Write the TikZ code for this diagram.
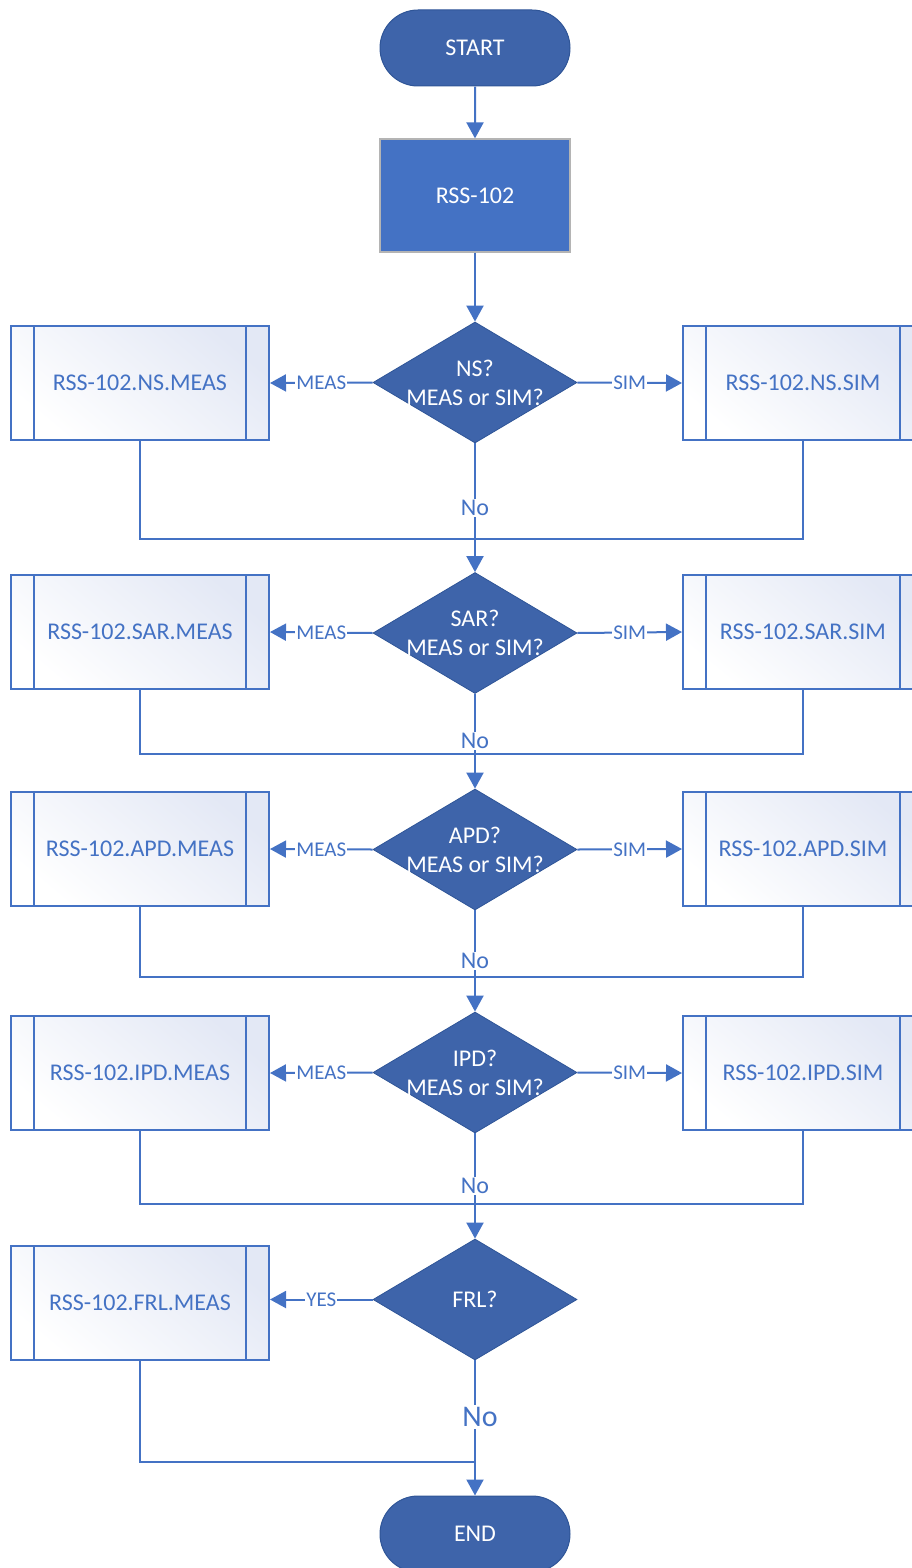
\documentclass[tikz,border=0pt]{standalone}
\usepackage{fontspec}
\setmainfont{Carlito}
\usetikzlibrary{shapes.geometric,shapes.misc,arrows.meta}
\definecolor{lineblue}{HTML}{4472C4}
\definecolor{darkblue}{HTML}{3E64AA}
\definecolor{darkedge}{HTML}{2F5597}
\definecolor{gradblue}{HTML}{E3E8F5}
\definecolor{grayedge}{HTML}{B4B4B4}
\begin{document}
\begin{tikzpicture}[x=1pt,y=-1pt,
  conn/.style={draw=lineblue, line width=2pt},
  arr/.style={conn, -{Triangle[length=16pt,width=17pt]}},
  term/.style={rounded rectangle, fill=darkblue, draw=darkedge, line width=1pt,
    minimum width=190pt, minimum height=76pt, inner sep=0pt, text=white,
    font=\fontsize{24}{29}\selectfont},
  proc/.style={rectangle, fill=lineblue, draw=grayedge, line width=1.2pt,
    minimum width=190pt, minimum height=113pt, inner sep=0pt, text=white,
    font=\fontsize{24}{29}\selectfont},
  dec/.style={diamond, aspect=1.69, fill=darkblue, draw=darkedge, line width=0.8pt,
    minimum width=204pt, minimum height=121pt, inner sep=-5pt, align=center,
    text=white, font=\fontsize{24}{29}\selectfont},
  sub/.style={rectangle, draw=lineblue, line width=2pt, minimum height=114pt,
    inner sep=0pt, text=lineblue, font=\fontsize{24}{29}\selectfont,
    top color=gradblue, bottom color=white, shading angle=-40,
    path picture={
      \draw[lineblue, line width=2pt]
        ([xshift=23pt]path picture bounding box.north west) --
        ([xshift=23pt]path picture bounding box.south west);
      \draw[lineblue, line width=2pt]
        ([xshift=-23pt]path picture bounding box.north east) --
        ([xshift=-23pt]path picture bounding box.south east);}},
  subl/.style={sub, minimum width=258pt},
  subr/.style={sub, minimum width=240pt},
  elab/.style={fill=white, inner sep=1pt, text=lineblue,
    font=\fontsize{21}{25}\selectfont},
  nolab/.style={fill=white, inner sep=1pt, text=lineblue,
    font=\fontsize{24}{29}\selectfont},
  bignolab/.style={fill=white, inner sep=2pt, text=lineblue,
    font=\fontsize{30}{36}\selectfont}
]
\useasboundingbox (0,0) rectangle (912,1568);

% nodes
\node[term] (start) at (475,48) {START};
\node[proc] (rss) at (475,195.5) {RSS-102};

\node[dec] (d1) at (475,382.5) {NS?\\MEAS or SIM?};
\node[subl] (m1) at (140,383) {RSS-102.NS.MEAS};
\node[subr] (s1) at (803,383) {RSS-102.NS.SIM};
\coordinate (j1) at (475,539);

\node[dec] (d2) at (475,633) {SAR?\\MEAS or SIM?};
\node[subl] (m2) at (140,632) {RSS-102.SAR.MEAS};
\node[subr] (s2) at (803,632) {RSS-102.SAR.SIM};
\coordinate (j2) at (475,754);

\node[dec] (d3) at (475,849.5) {APD?\\MEAS or SIM?};
\node[subl] (m3) at (140,849) {RSS-102.APD.MEAS};
\node[subr] (s3) at (803,849) {RSS-102.APD.SIM};
\coordinate (j3) at (475,977);

\node[dec] (d4) at (475,1072.5) {IPD?\\MEAS or SIM?};
\node[subl] (m4) at (140,1073) {RSS-102.IPD.MEAS};
\node[subr] (s4) at (803,1073) {RSS-102.IPD.SIM};
\coordinate (j4) at (475,1204);

\node[dec] (d5) at (475,1299.5) {FRL?};
\node[subl] (m5) at (140,1303) {RSS-102.FRL.MEAS};
\coordinate (j5) at (475,1462);

\node[term] (end) at (475,1534) {END};

% connectors
\draw[arr] (start) -- (rss);
\draw[arr] (rss) -- (d1);

\draw[arr] (d1.west) -- node[elab] (l1m) {MEAS} (m1.east);
\draw[arr] (d1.east) -- node[elab] (l1s) {SIM} (s1.west);
\draw[conn] (d1.south) -- (j1);
\draw[conn] (m1.south) |- (j1) -| (s1.south);
\draw[arr] (j1) -- (d2.north);
\node[nolab] (no1) at (475,508) {No};

\draw[arr] (d2.west) -- node[elab] (l2m) {MEAS} (m2.east);
\draw[arr] (d2.east) -- node[elab] (l2s) {SIM} (s2.west);
\draw[conn] (d2.south) -- (j2);
\draw[conn] (m2.south) |- (j2) -| (s2.south);
\draw[arr] (j2) -- (d3.north);
\node[nolab] (no2) at (475,741) {No};

\draw[arr] (d3.west) -- node[elab] (l3m) {MEAS} (m3.east);
\draw[arr] (d3.east) -- node[elab] (l3s) {SIM} (s3.west);
\draw[conn] (d3.south) -- (j3);
\draw[conn] (m3.south) |- (j3) -| (s3.south);
\draw[arr] (j3) -- (d4.north);
\node[nolab] (no3) at (475,961) {No};

\draw[arr] (d4.west) -- node[elab] (l4m) {MEAS} (m4.east);
\draw[arr] (d4.east) -- node[elab] (l4s) {SIM} (s4.west);
\draw[conn] (d4.south) -- (j4);
\draw[conn] (m4.south) |- (j4) -| (s4.south);
\draw[arr] (j4) -- (d5.north);
\node[nolab] (no4) at (475,1186) {No};

\draw[arr] (d5.west) -- node[elab] (l5y) {YES} (d5.west -| m5.east);
\draw[arr] (d5.south) -- (end.north);
\draw[conn] (m5.south) |- (j5);
\node[bignolab] (no5) at (480,1417) {No};
\end{tikzpicture}
\end{document}
